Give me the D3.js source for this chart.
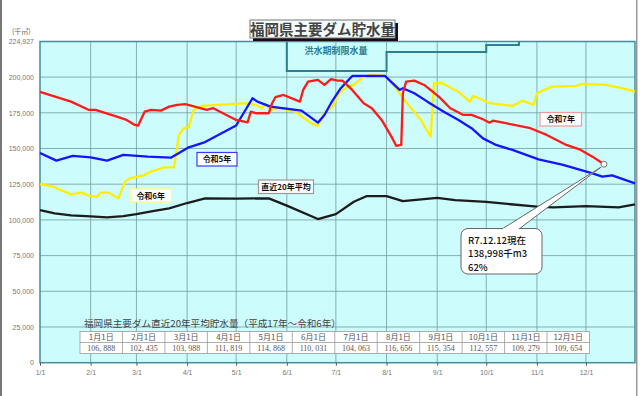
<!DOCTYPE html>
<html>
<head>
<meta charset="utf-8">
<script src="https://cdn.jsdelivr.net/npm/d3@7"></script>
<style>
  body { margin: 0; background: #fff; }
  svg { display: block; font-family: "Noto Sans CJK JP", "Noto Sans", sans-serif; }
</style>
</head>
<body>
<svg id="chart" width="640" height="396"></svg>
<script>
// ---- data ----
var monthTicks = ["1/1","2/1","3/1","4/1","5/1","6/1","7/1","8/1","9/1","10/1","11/1","12/1"];
var yTicks = [0, 25000, 50000, 75000, 100000, 125000, 150000, 175000, 200000, 224927];

// 令和7年 (red)
var r7Dates = ["1/1","1/20","1/31","2/4","2/17","2/23","2/28","3/2","3/6","3/10","3/16","3/21","3/26","3/31",
  "4/13","4/17","5/1","5/8","5/10","5/13","5/21","5/23","5/25","5/30","6/9","6/11","6/14","6/20","6/24","6/28",
  "7/2","7/5","7/11","7/18","7/23","7/29","8/4","8/7","8/10","8/11","8/13","8/18","8/24","9/2","9/9","9/17",
  "9/22","9/29","10/3","10/5","10/13","10/28","11/7","11/19","11/27","12/5","12/12"];
var r7Values = [189600,182800,177000,177000,172300,170000,166500,166000,175800,177000,176500,179300,180500,181000,
  177000,178200,170000,168300,175800,174700,174700,181700,185900,187500,182800,191000,196800,198000,194500,198500,
  197500,197500,191000,181700,178200,170000,158300,151800,152500,188700,196800,197500,194500,186300,178200,173500,
  173500,170500,168100,169500,167700,164200,159500,152500,149400,144300,138998];

// 令和5年 (blue)
var r5Dates = ["1/1","1/11","1/21","2/1","2/11","2/21","3/8","3/22","3/26","4/2","4/12","5/1","5/11","5/14","5/22",
  "6/10","6/20","6/24","6/28","7/4","7/11","7/31","8/9","8/11","8/18","8/26","9/5","9/14","9/22","9/29","10/7",
  "10/17","11/2","11/17","12/5","12/11","12/17","12/31"];
var r5Values = [146900,141500,144800,143800,141500,145500,144300,143600,146200,150800,154500,166100,185200,182800,179300,
  176500,168100,173500,181700,192200,200800,200800,191000,192200,188700,182800,175800,170000,164200,157100,152500,
  149000,142400,138500,132600,130300,131200,125600];

// 令和6年 (yellow)
var r6Dates = ["1/1","1/8","1/20","1/26","2/1","2/5","2/7","2/12","2/18","2/22","2/25","3/6","3/10","3/18","3/24",
  "3/27","3/30","4/2","4/5","4/10","4/30","5/7","5/13","5/17","5/19","5/22","5/28","6/6","6/16","6/20","6/24",
  "6/29","7/3","7/8","7/12","7/18","7/23","7/31","8/6","8/12","8/22","8/28","8/30","9/4","9/14","9/21","9/23",
  "9/29","10/3","10/17","10/23","10/30","11/1","11/10","11/25","11/29","12/13","12/23","12/31"];
var r6Values = [125100,123700,117900,119100,116700,116200,119100,119100,115100,126800,129100,131400,133800,136800,136800,
  159500,164200,164900,177000,179800,181200,181700,180500,178200,181700,177000,178200,175800,167700,165800,174700,
  179300,188700,193300,194500,200300,201500,200800,193300,184000,170000,158300,195700,195700,189800,182800,186800,
  184000,181700,179800,183500,180500,188700,193300,193800,195200,194500,192200,189800];

// 直近20年平均 (black)
var avgDates = ["1/1","1/10","1/20","2/1","2/11","2/21","3/1","3/11","3/21","4/1","4/12","5/1","5/21","6/1","6/20",
  "7/1","7/12","7/20","8/1","8/11","9/1","9/12","10/1","11/1","11/11","12/1","12/21","12/31"];
var avgValues = [106888,104600,103200,102435,101800,102700,103988,106200,108100,111819,115100,114868,115100,110031,100600,
  104063,112700,116700,116656,113200,115354,113900,112557,109279,108800,109654,108800,110900];

// 洪水期制限水量 (step line)
var floodDates = ["6/1","6/1","8/1","8/1","10/1","10/1","10/21","10/21"];
var floodValues = [224927,204300,204300,217600,217600,222500,222500,224927];

// table under the chart
var tableMonths = ["1月1日","2月1日","3月1日","4月1日","5月1日","6月1日","7月1日","8月1日","9月1日","10月1日","11月1日","12月1日"];
var tableValues = [106888,102435,103988,111819,114868,110031,104063,116656,115354,112557,109279,109654];

// ---- layout ----
var parse = function(s) { return d3.timeParse("%Y/%m/%d")("2025/" + s); };
var plotLeft = 40, plotRight = 635, plotTop = 41.5, plotBottom = 362.7;

var svg = d3.select("#chart");

var x = d3.scaleTime()
    .domain([parse("1/1"), parse("12/31")])
    .range([plotLeft, plotRight]);
var y = d3.scaleLinear()
    .domain([0, 224927])
    .range([plotBottom, plotTop]);

// page frame lines
svg.append("rect").attr("x", 0).attr("y", 0).attr("width", 2).attr("height", 396).attr("fill", "#777");
svg.append("rect").attr("x", 636).attr("y", 0).attr("width", 1.5).attr("height", 396).attr("fill", "#999");

// plot background
svg.append("rect")
    .attr("x", plotLeft).attr("y", plotTop)
    .attr("width", plotRight - plotLeft).attr("height", plotBottom - plotTop)
    .attr("fill", "#ccfcfc");

// grid
var grid = svg.append("g").attr("stroke", "#5d868c").attr("stroke-width", 0.8).attr("opacity", 0.8);
grid.selectAll(".h").data(yTicks.slice(1, -1)).enter().append("line")
    .attr("x1", plotLeft).attr("x2", plotRight)
    .attr("y1", function(d) { return y(d); }).attr("y2", function(d) { return y(d); });
grid.selectAll(".v").data(monthTicks.slice(1)).enter().append("line")
    .attr("y1", plotTop).attr("y2", plotBottom)
    .attr("x1", function(d) { return x(parse(d)); }).attr("x2", function(d) { return x(parse(d)); });

// frame
svg.append("rect")
    .attr("x", plotLeft).attr("y", plotTop)
    .attr("width", plotRight - plotLeft).attr("height", plotBottom - plotTop)
    .attr("fill", "none").attr("stroke", "#3f8f9c").attr("stroke-width", 1.5);

// axes
var xAxis = svg.append("g")
    .attr("transform", "translate(0," + plotBottom + ")")
    .call(d3.axisBottom(x)
      .tickValues(monthTicks.map(parse))
      .tickFormat(d3.timeFormat("%-m/%-d"))
      .tickSize(3).tickPadding(4));
var yAxis = svg.append("g")
    .attr("transform", "translate(" + plotLeft + ",0)")
    .call(d3.axisLeft(y)
      .tickValues(yTicks)
      .tickFormat(d3.format(","))
      .tickSize(0).tickPadding(6));
[xAxis, yAxis].forEach(function(a) {
  a.select(".domain").remove();
  a.selectAll("line").attr("stroke", "#555");
  a.selectAll("text").attr("fill", "#777").style("font-size", "7px")
    .style("font-family", "'Liberation Sans', Arial, sans-serif");
});

svg.append("text")
    .attr("x", 12).attr("y", 34)
    .attr("fill", "#666").style("font-size", "7px")
    .text("(千㎥)");

// flood control step line
svg.append("path")
    .datum(d3.zip(floodDates, floodValues))
    .attr("fill", "none").attr("stroke", "#2f7f90").attr("stroke-width", 2)
    .attr("d", d3.line().x(function(d) { return x(parse(d[0])); }).y(function(d) { return y(d[1]); }));
svg.append("text")
    .attr("x", 336).attr("y", 54)
    .attr("text-anchor", "middle")
    .attr("fill", "#2f7f90").style("font-size", "9px").style("font-weight", "bold")
    .text("洪水期制限水量");

// series
var line = d3.line()
    .x(function(d) { return x(parse(d[0])); })
    .y(function(d) { return y(d[1]); });

var series = [
  { dates: avgDates, values: avgValues, color: "#1c1c1c" },
  { dates: r6Dates, values: r6Values, color: "#ffee00" },
  { dates: r5Dates, values: r5Values, color: "#1414ff" },
  { dates: r7Dates, values: r7Values, color: "#ff1a1a" }
];
series.forEach(function(s) {
  svg.append("path")
      .datum(d3.zip(s.dates, s.values))
      .attr("fill", "none")
      .attr("stroke", s.color)
      .attr("stroke-width", 2.3)
      .attr("stroke-linejoin", "round")
      .attr("d", line);
});

// series labels
var labels = [
  { text: "令和5年", x: 197, y: 152.5, w: 40, h: 13.5, border: "#3a3aff" },
  { text: "令和6年", x: 130, y: 189, w: 41.5, h: 13, border: "#ffff70" },
  { text: "直近20年平均", x: 258.5, y: 180, w: 55, h: 13.5, border: "#999" },
  { text: "令和7年", x: 540, y: 112.5, w: 41.5, h: 13.5, border: "#f29a9a" }
];
labels.forEach(function(l) {
  svg.append("rect")
      .attr("x", l.x).attr("y", l.y).attr("width", l.w).attr("height", l.h)
      .attr("fill", "#fff").attr("stroke", l.border).attr("stroke-width", 1.2);
  svg.append("text")
      .attr("x", l.x + l.w / 2).attr("y", l.y + l.h / 2 + 3)
      .attr("text-anchor", "middle")
      .attr("fill", "#111").style("font-size", "8px").style("font-weight", "bold")
      .text(l.text);
});

// callout for the latest value
var last = r7Values.length - 1,
    px = x(parse(r7Dates[last])),
    py = y(r7Values[last]);
var bx = 461, by = 228.5, bw = 81, bh = 45.5;
svg.append("rect")
    .attr("x", bx).attr("y", by).attr("width", bw).attr("height", bh)
    .attr("rx", 7).attr("fill", "#fff").attr("stroke", "#666").attr("stroke-width", 1);
svg.append("path")
    .attr("d", "M" + (bx + 41) + "," + (by + 0.5) + "L" + (px - 3) + "," + (py + 3) + "L" + (bx + 58) + "," + (by + 0.5))
    .attr("fill", "#fff").attr("stroke", "#666").attr("stroke-width", 1);
svg.append("line")
    .attr("x1", bx + 42).attr("x2", bx + 57).attr("y1", by + 0.8).attr("y2", by + 0.8)
    .attr("stroke", "#fff").attr("stroke-width", 2);
svg.append("circle")
    .attr("cx", px).attr("cy", py).attr("r", 3)
    .attr("fill", "#fff").attr("stroke", "#777").attr("stroke-width", 1);
var callout = ["R7.12.12現在", d3.format(",")(r7Values[last]) + "千m3", "62%"];
svg.append("g").selectAll("text").data(callout).enter().append("text")
    .attr("x", bx + 7).attr("y", function(d, i) { return by + 15 + i * 13.5; })
    .attr("fill", "#111").style("font-size", "9.5px").style("font-weight", "500")
    .text(function(d) { return d; });

// title
svg.append("rect").attr("x", 253).attr("y", 23).attr("width", 145).attr("height", 18).attr("fill", "#111");
svg.append("rect").attr("x", 250).attr("y", 20).attr("width", 145).attr("height", 18)
    .attr("fill", "#f3fbfb").attr("stroke", "#777").attr("stroke-width", 1);
svg.append("text")
    .attr("x", 322.5).attr("y", 34.5)
    .attr("text-anchor", "middle")
    .attr("fill", "#444").style("font-size", "14.5px").style("font-weight", "bold")
    .text("福岡県主要ダム貯水量");

// average table
svg.append("text")
    .attr("x", 84).attr("y", 327)
    .attr("fill", "#444").style("font-size", "9.6px")
    .text("福岡県主要ダム直近20年平均貯水量（平成17年～令和6年）");

var tx = 80, ty = 331.5, cw = (589.5 - 80) / 12, rh = 11;
var table = svg.append("g");
table.append("rect")
    .attr("x", tx).attr("y", ty).attr("width", cw * 12).attr("height", rh * 2)
    .attr("fill", "#fff").attr("stroke", "#999").attr("stroke-width", 0.8);
table.append("line")
    .attr("x1", tx).attr("x2", tx + cw * 12).attr("y1", ty + rh).attr("y2", ty + rh)
    .attr("stroke", "#999").attr("stroke-width", 0.8);
table.selectAll(".sep").data(d3.range(1, 12)).enter().append("line")
    .attr("x1", function(i) { return tx + i * cw; }).attr("x2", function(i) { return tx + i * cw; })
    .attr("y1", ty).attr("y2", ty + rh * 2)
    .attr("stroke", "#999").attr("stroke-width", 0.8);
table.selectAll(".m").data(tableMonths).enter().append("text")
    .attr("x", function(d, i) { return tx + (i + 0.5) * cw; }).attr("y", ty + 8.5)
    .attr("text-anchor", "middle").attr("fill", "#555").style("font-size", "8px")
    .text(function(d) { return d; });
table.selectAll(".val").data(tableValues).enter().append("text")
    .attr("x", function(d, i) { return tx + (i + 0.5) * cw; }).attr("y", ty + rh + 8.5)
    .attr("text-anchor", "middle").attr("fill", "#555").style("font-size", "8px")
    .style("font-family", "'Liberation Serif', serif")
    .text(function(d) { return d3.format(",")(d).replace(",", ", "); });
</script>
</body>
</html>
